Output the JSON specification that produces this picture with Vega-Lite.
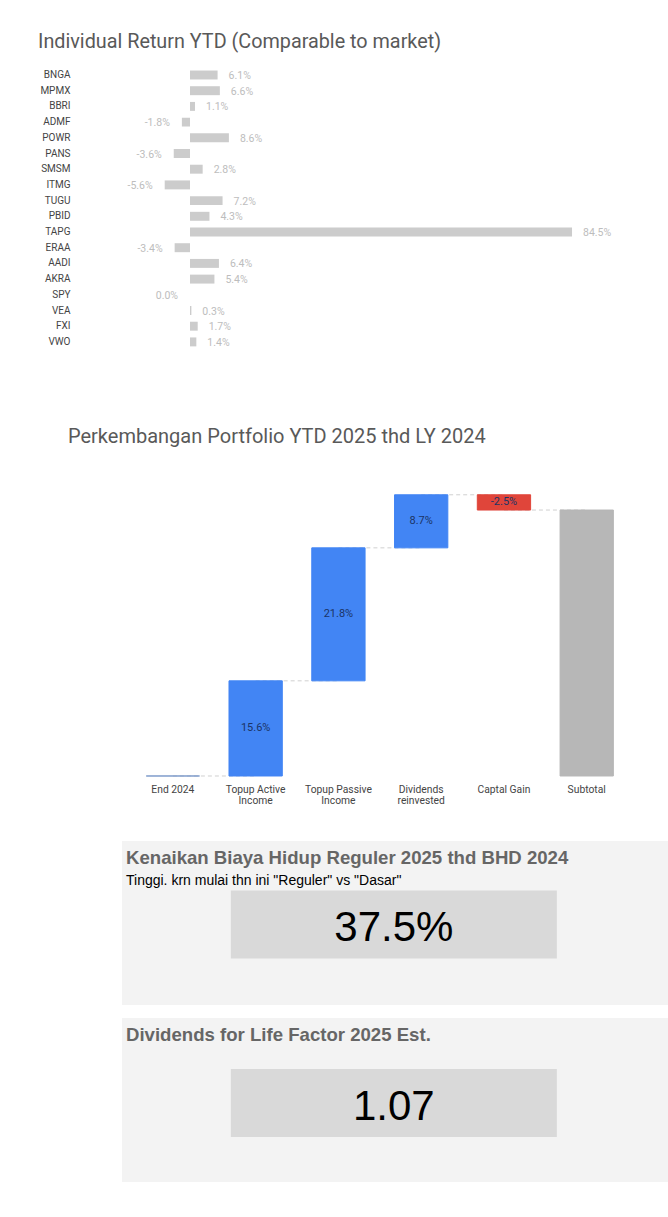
{
  "$schema": "https://vega.github.io/schema/vega-lite/v6.json",
  "padding": 0,
  "background": "white",
  "bounds": "flush",
  "spacing": 0,
  "config": {"view": {"stroke": null}, "font": "Roboto",
             "locale": {"number": {"decimal": ".", "thousands": ",", "grouping": [3], "currency": ["$", ""], "minus": "-"}}},
  "vconcat": [
    {
      "width": 668,
      "height": 350,
      "title": {"text": "Individual Return YTD (Comparable to market)", "anchor": "start", "frame": "group", "dx": 38, "offset": -52, "font": "Roboto", "fontSize": 19.8, "fontWeight": "normal", "color": "#595959"},
      "data": {"values": [
        {"ticker": "BNGA", "ret": 0.061},
        {"ticker": "MPMX", "ret": 0.066},
        {"ticker": "BBRI", "ret": 0.011},
        {"ticker": "ADMF", "ret": -0.018},
        {"ticker": "POWR", "ret": 0.086},
        {"ticker": "PANS", "ret": -0.036},
        {"ticker": "SMSM", "ret": 0.028},
        {"ticker": "ITMG", "ret": -0.056},
        {"ticker": "TUGU", "ret": 0.072},
        {"ticker": "PBID", "ret": 0.043},
        {"ticker": "TAPG", "ret": 0.845},
        {"ticker": "ERAA", "ret": -0.034},
        {"ticker": "AADI", "ret": 0.064},
        {"ticker": "AKRA", "ret": 0.054},
        {"ticker": "SPY", "ret": 0.0},
        {"ticker": "VEA", "ret": 0.003},
        {"ticker": "FXI", "ret": 0.017},
        {"ticker": "VWO", "ret": 0.014}
      ]},
      "encoding": {
        "y": {"field": "ticker", "type": "nominal", "sort": null,
              "scale": {"range": [67.15, 349.75], "paddingInner": 0.43, "paddingOuter": 0.215},
              "axis": {"orient": "left", "offset": -70, "domain": false, "ticks": false, "tickSize": 0, "labelPadding": 0, "title": null, "labelFont": "Roboto", "labelFontSize": 10, "labelColor": "#444444"}},
        "x": {"field": "ret", "type": "quantitative", "scale": {"domain": [-0.4203, 1.0573], "nice": false}, "axis": null}
      },
      "layer": [
        {"mark": {"type": "bar", "color": "#cccccc"}},
        {"transform": [{"filter": "datum.ret > 0"}],
         "mark": {"type": "text", "align": "left", "dx": 11, "dy": 1, "fontSize": 10.5, "color": "#bdbdbd"},
         "encoding": {"text": {"field": "ret", "type": "quantitative", "format": ".1%"}}},
        {"transform": [{"filter": "datum.ret <= 0"}],
         "mark": {"type": "text", "align": "right", "dx": -12, "dy": 1, "fontSize": 10.5, "color": "#bdbdbd"},
         "encoding": {"text": {"field": "ret", "type": "quantitative", "format": ".1%"}}}
      ]
    },
    {
      "width": 668,
      "height": 491,
      "title": {"text": "Perkembangan Portfolio YTD 2025 thd LY 2024", "anchor": "start", "frame": "group", "dx": 68, "offset": -97, "font": "Roboto", "fontSize": 20, "fontWeight": "normal", "color": "#595959"},
      "data": {"values": [
        {"cat": "End 2024", "next": "Topup Active\nIncome", "start": 0, "end": 0, "delta": 0, "kind": "start"},
        {"cat": "Topup Active\nIncome", "next": "Topup Passive\nIncome", "start": 0, "end": 0.156, "delta": 0.156, "kind": "increase"},
        {"cat": "Topup Passive\nIncome", "next": "Dividends\nreinvested", "start": 0.156, "end": 0.374, "delta": 0.218, "kind": "increase"},
        {"cat": "Dividends\nreinvested", "next": "Captal Gain", "start": 0.374, "end": 0.461, "delta": 0.087, "kind": "increase"},
        {"cat": "Captal Gain", "next": "Subtotal", "start": 0.461, "end": 0.436, "delta": -0.025, "kind": "decrease"},
        {"cat": "Subtotal", "next": null, "start": 0, "end": 0.436, "delta": 0.436, "kind": "total"}
      ]},
      "encoding": {
        "x": {"field": "cat", "type": "nominal",
              "scale": {"domain": ["End 2024", "Topup Active\nIncome", "Topup Passive\nIncome", "Dividends\nreinvested", "Captal Gain", "Subtotal"], "range": [131.5, 628.1], "paddingInner": 0.356, "paddingOuter": 0.178},
              "axis": {"title": null, "offset": -65, "domain": false, "ticks": false, "tickSize": 0, "labelAngle": 0, "labelPadding": 8, "labelFont": "Roboto", "labelFontSize": 10.3, "labelColor": "#444444", "labelExpr": "split(datum.label, '\\n')", "labelLineHeight": 11.5, "labelBaseline": "top"}}
      },
      "layer": [
        {"transform": [{"filter": "datum.next != null"}],
         "mark": {"type": "rule", "strokeDash": [4, 3], "color": "#d0d0d0", "strokeWidth": 1},
         "encoding": {"x2": {"field": "next"}, "y": {"field": "end", "type": "quantitative", "scale": {"domain": [-0.10656, 0.69836], "nice": false, "zero": false}, "axis": null}}},
        {"mark": {"type": "bar", "strokeWidth": 1},
         "encoding": {
           "y": {"field": "start", "type": "quantitative", "scale": {"domain": [-0.10656, 0.69836], "nice": false, "zero": false}, "axis": null},
           "y2": {"field": "end"},
           "color": {"field": "kind", "type": "nominal", "scale": {"domain": ["start", "increase", "decrease", "total"], "range": ["#7f9ccb", "#4285f4", "#e0453a", "#b7b7b7"]}, "legend": null},
           "stroke": {"field": "kind", "type": "nominal", "scale": {"domain": ["start", "increase", "decrease", "total"], "range": ["#7f9ccb", "#4285f4", "#e0453a", "#b7b7b7"]}, "legend": null}
         }},
        {"transform": [{"filter": "datum.kind == 'increase' || datum.kind == 'decrease'"}, {"fold": ["start", "end"], "as": ["edge", "v"]}],
         "mark": {"type": "text", "fontSize": 11, "color": "#1b3466"},
         "encoding": {
           "y": {"aggregate": "mean", "field": "v", "type": "quantitative", "scale": {"domain": [-0.10656, 0.69836], "nice": false, "zero": false}, "axis": null},
           "text": {"field": "delta", "type": "quantitative", "format": ".1%"}
         }}
      ]
    },
    {
      "width": 668,
      "height": 177,
      "title": {"text": "Kenaikan Biaya Hidup Reguler 2025 thd BHD 2024", "subtitle": "Tinggi. krn mulai thn ini \"Reguler\" vs \"Dasar\"", "anchor": "start", "frame": "group", "dx": 126, "offset": -47, "font": "Liberation Sans", "fontSize": 18.6, "fontWeight": "bold", "color": "#666666", "subtitleFont": "Liberation Sans", "subtitleFontSize": 14, "subtitleColor": "#000000", "subtitlePadding": 6},
      "data": {"values": [{"metric": "Kenaikan Biaya Hidup Reguler 2025 thd BHD 2024", "value": 0.375}]},
      "resolve": {"scale": {"x": "independent", "y": "independent"}},
      "layer": [
        {"mark": {"type": "rect", "color": "#f3f3f3"},
         "encoding": {
           "x": {"field": "metric", "type": "nominal", "scale": {"paddingInner": 0, "paddingOuter": 0.1117, "align": 1}, "axis": null},
           "y": {"field": "metric", "type": "nominal", "scale": {"paddingInner": 0, "paddingOuter": 0.03963, "align": 0}, "axis": null}
         }},
        {"encoding": {
           "x": {"field": "metric", "type": "nominal", "scale": {"paddingInner": 0, "paddingOuter": 0.5245, "align": 0.675}, "axis": null},
           "y": {"field": "metric", "type": "nominal", "scale": {"paddingInner": 0, "paddingOuter": 0.8015, "align": 0.454}, "axis": null}
         },
         "layer": [
           {"mark": {"type": "rect", "color": "#d9d9d9"}},
           {"mark": {"type": "text", "font": "Liberation Sans", "fontSize": 42, "color": "#000000", "dy": 4},
            "encoding": {"text": {"field": "value", "type": "quantitative", "format": ".1%"}}}
         ]}
      ]
    },
    {
      "width": 668,
      "height": 164,
      "title": {"text": "Dividends for Life Factor 2025 Est.", "anchor": "start", "frame": "group", "dx": 126, "offset": -27, "font": "Liberation Sans", "fontSize": 18.6, "fontWeight": "bold", "color": "#666666"},
      "data": {"values": [{"metric": "Dividends for Life Factor 2025 Est.", "value": 1.07}]},
      "resolve": {"scale": {"x": "independent", "y": "independent"}},
      "layer": [
        {"mark": {"type": "rect", "color": "#f3f3f3"},
         "encoding": {
           "x": {"field": "metric", "type": "nominal", "scale": {"paddingInner": 0, "paddingOuter": 0.1117, "align": 1}, "axis": null},
           "y": {"field": "metric", "type": "nominal", "scale": {"paddingInner": 0, "paddingOuter": 0}, "axis": null}
         }},
        {"encoding": {
           "x": {"field": "metric", "type": "nominal", "scale": {"paddingInner": 0, "paddingOuter": 0.5245, "align": 0.675}, "axis": null},
           "y": {"field": "metric", "type": "nominal", "scale": {"paddingInner": 0, "paddingOuter": 0.7059, "align": 0.531}, "axis": null}
         },
         "layer": [
           {"mark": {"type": "rect", "color": "#d9d9d9"}},
           {"mark": {"type": "text", "font": "Liberation Sans", "fontSize": 42, "color": "#000000", "dy": 4},
            "encoding": {"text": {"field": "value", "type": "quantitative", "format": ".2f"}}}
         ]}
      ]
    }
  ]
}
